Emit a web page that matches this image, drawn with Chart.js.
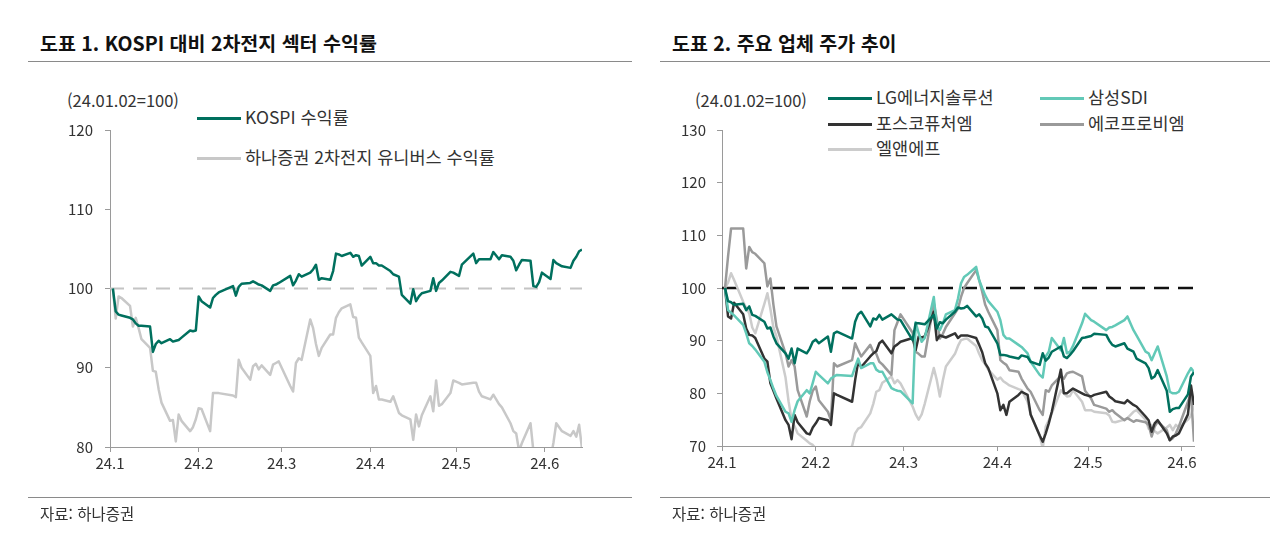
<!DOCTYPE html>
<html lang="ko">
<head>
<meta charset="utf-8">
<title>2차전지 섹터 수익률 / 주요 업체 주가 추이</title>
<script src="https://cdn.jsdelivr.net/npm/chart.js@4.4.1/dist/chart.umd.min.js"></script>
<style>
  html, body { margin: 0; padding: 0; background: #fff; }
  body {
    width: 1280px; height: 541px; position: relative; overflow: hidden;
    font-family: 'Noto Sans CJK KR', 'Noto Sans', sans-serif; color: #222;
  }
  .panel { position: absolute; top: 0; width: 640px; height: 541px; }
  .panel canvas { position: absolute; left: 0; top: 0; }
  .title { position: absolute; top: 28px; font-size: 19.5px; line-height: 30px; font-weight: bold; color: #111; white-space: nowrap; }
  .rule { position: absolute; height: 0; border-top: 1.5px solid #8a8a8a; }
  .unit { position: absolute; top: 90px; font-size: 16.5px; line-height: 20px; color: #333; }
  .src { position: absolute; top: 503px; font-size: 15.5px; line-height: 20px; color: #333; }
  .leg { position: absolute; font-size: 17.5px; line-height: 20px; white-space: nowrap; color: #333; }
  .leg i { display: inline-block; width: 44px; height: 0; border-top: 3px solid; vertical-align: middle; margin-right: 4px; position: relative; top: -1px; }
</style>
</head>
<body>

<div class="panel" style="left:0">
  <div class="title" style="left:40px">도표 1. KOSPI 대비 2차전지 섹터 수익률</div>
  <div class="rule" style="left:28px; top:61px; width:604px"></div>
  <div class="unit" style="left:67px">(24.01.02=100)</div>
  <div class="leg" style="left:197px; top:107px"><i style="border-color:#00705e"></i>KOSPI 수익률</div>
  <div class="leg" style="left:197px; top:147px"><i style="border-color:#c8c8c8"></i>하나증권 2차전지 유니버스 수익률</div>
  <canvas id="leftChart" width="640" height="541"></canvas>
  <div class="rule" style="left:28px; top:497px; width:604px"></div>
  <div class="src" style="left:40px">자료: 하나증권</div>
</div>

<div class="panel" style="left:640px">
  <div class="title" style="left:32px">도표 2. 주요 업체 주가 추이</div>
  <div class="rule" style="left:20px; top:61px; width:610px"></div>
  <div class="unit" style="left:55px">(24.01.02=100)</div>
  <div class="leg" style="left:188px; top:87px"><i style="border-color:#00705e"></i>LG에너지솔루션</div>
  <div class="leg" style="left:400px; top:87px"><i style="border-color:#62c9b7"></i>삼성SDI</div>
  <div class="leg" style="left:188px; top:113px"><i style="border-color:#333333"></i>포스코퓨처엠</div>
  <div class="leg" style="left:400px; top:113px"><i style="border-color:#9a9a9a"></i>에코프로비엠</div>
  <div class="leg" style="left:188px; top:138px"><i style="border-color:#cccccc"></i>엘앤에프</div>
  <canvas id="rightChart" width="640" height="541"></canvas>
  <div class="rule" style="left:20px; top:497px; width:610px"></div>
  <div class="src" style="left:32px">자료: 하나증권</div>
</div>

<script>
// trading days 2024 (KRX), by month
const daysJan = [2,3,4,5,8,9,10,11,12,15,16,17,18,19,22,23,24,25,26,29,30,31];
const daysFeb = [1,2,5,6,7,8,13,14,15,16,19,20,21,22,23,26,27,28,29];
const daysMar = [4,5,6,7,8,11,12,13,14,15,18,19,20,21,22,25,26,27,28,29];
const daysApr = [1,2,3,4,5,8,9,11,12,15,16,17,18,19,22,23,24,25,26,29,30];
const daysMay = [2,3,7,8,9,10,13,14,16,17,20,21,22,23,24,27,28,29,30,31];
const daysJun = [3,4,5,7,10,11,12,13,14];

const monthLabels = ['24.1', '24.2', '24.3', '24.4', '24.5', '24.6'];
const baseLevel = 100;

// 도표 1 (111 trading days, 24.01.02 ~ 24.06.14)
const kospi = [
  100.0, 97.1, 96.7, 96.6, 96.3, 96.1, 95.6, 95.3, 95.3, 95.2, 92.0, 93.0, 93.4, 93.1, 93.6, 93.3, 93.4, 93.5, 93.8, 94.7, 94.6, 94.7,
  99.0, 98.4, 97.6, 98.8, 99.2, 99.5, 100.3, 99.1, 100.2, 100.6, 100.7, 100.9, 100.7, 100.5, 100.4, 99.7, 100.4, 100.5, 100.7,
  101.6, 100.4, 101.0, 101.8, 101.5, 102.0, 102.4, 103.0, 101.1, 101.3, 101.1, 102.2, 104.4, 104.3, 104.1, 104.5, 104.0, 104.2, 104.1, 102.9,
  104.0, 103.2, 103.2, 102.9, 102.9, 102.2, 101.8, 101.5, 99.2, 98.1, 99.9, 98.4, 99.0, 99.4, 99.7, 101.3, 99.7, 100.7, 101.0, 102.1, 102.0,
  101.6, 103.0, 104.4, 103.2, 103.7, 103.7, 103.7, 104.6, 103.7, 104.2, 104.0, 103.5, 102.3, 103.0, 103.6, 103.5, 100.3, 100.2, 100.8, 102.0,
  101.2, 103.6, 103.2, 102.8, 102.6, 103.5, 104.0, 104.7, 104.9
];
const hanaUniverse = [
  100.0, 96.2, 99.0, 98.8, 97.8, 95.2, 96.3, 95.0, 93.6, 92.5, 89.6, 89.5, 87.3, 85.6, 83.3, 83.4, 80.7, 84.1, 83.3, 82.0, 82.5, 83.5,
  84.9, 84.8, 82.0, 86.8, 86.8, 86.8, 86.5, 86.3, 91.0, 90.0, 88.5, 90.2, 90.5, 89.8, 90.3, 89.1, 90.4, 90.6, 90.8,
  87.7, 87.0, 90.6, 91.2, 91.0, 96.1, 95.0, 93.0, 91.5, 92.5, 94.2, 94.2, 96.3, 97.0, 97.5, 98.0, 96.4, 96.3, 93.8, 93.2,
  91.5, 86.8, 87.7, 86.0, 86.0, 85.7, 86.4, 84.3, 84.0, 83.5, 80.9, 84.1, 82.6, 84.0, 86.4, 84.5, 88.4, 85.2, 85.4, 86.8, 88.4,
  88.1, 87.9, 88.1, 88.1, 87.0, 86.4, 86.0, 86.6, 85.4, 85.0, 83.0, 82.0, 81.7, 79.5, 80.5, 83.0, 79.5, 78.0, 77.5, 77.5,
  78.5, 80.5, 83.0, 82.0, 81.4, 82.0, 81.3, 82.8, 79.8
];

// 도표 2 (105 trading days, 24.01.02 ~ 24.06.05)
const lgEnergy = [
  100.0, 97.5, 97.3, 96.8, 97.0, 95.8, 96.5, 94.9, 94.7, 93.6, 92.3, 92.5, 90.8, 89.5, 87.6, 86.6, 88.5, 85.7, 88.5, 87.6, 88.5, 89.8,
  90.2, 89.5, 90.8, 87.9, 91.4, 91.7, 90.4, 93.6, 95.0, 95.5, 92.7, 94.2, 94.0, 94.9, 94.0, 95.0, 94.5, 94.0, 93.9,
  90.1, 93.3, 93.3, 93.2, 93.1, 94.9, 92.3, 93.5, 93.3, 94.0, 95.5, 96.3, 96.1, 96.2, 96.6, 94.6, 95.0, 94.2, 92.7, 92.5,
  89.5, 87.3, 87.3, 87.2, 87.0, 86.6, 87.2, 86.9, 86.0, 85.4, 87.6, 86.2, 86.8, 87.9, 88.9, 87.0, 86.7, 87.3, 88.0, 90.5, 90.6,
  90.9, 91.3, 91.1, 90.0, 89.2, 88.9, 89.5, 88.5, 87.9, 86.6, 85.7, 84.8, 82.8, 83.2, 84.4, 80.5, 76.5, 77.0, 77.2, 77.2,
  79.8, 83.2, 84.0
];
const samsungSdi = [
  100.0, 95.8, 95.3, 94.8, 93.0, 91.4, 89.5, 89.0, 88.3, 86.0, 84.0, 82.5, 80.9, 79.5, 76.5, 76.2, 74.6, 76.8, 78.5, 80.6, 80.0, 82.0,
  84.1, 83.5, 81.9, 82.8, 83.2, 83.5, 83.3, 85.0, 86.6, 84.8, 85.7, 85.7, 84.5, 84.1, 84.1, 81.0, 80.7, 80.5, 80.4,
  78.1, 93.5, 91.4, 89.8, 90.5, 98.3, 92.7, 92.0, 93.3, 95.0, 95.8, 98.0, 100.9, 102.1, 102.5, 104.0, 101.5, 100.0, 98.6, 97.5,
  95.5, 93.9, 91.1, 90.4, 90.4, 89.2, 88.8, 87.6, 86.0, 83.5, 83.0, 87.0, 87.9, 90.5, 88.2, 90.5, 87.6, 87.9, 89.0, 93.3, 95.1,
  93.9, 93.6, 92.0, 92.5, 92.6, 92.9, 93.9, 94.6, 92.0, 91.0, 87.9, 87.6, 86.3, 87.6, 88.9, 83.2, 80.3, 80.0, 80.0, 80.3,
  83.8, 84.8, 84.0
];
const poscoFuture = [
  100.0, 94.6, 94.2, 97.2, 95.0, 92.3, 91.1, 91.0, 90.5, 86.6, 86.0, 81.9, 80.5, 79.0, 74.9, 74.0, 71.3, 75.9, 74.5, 72.4, 72.2, 73.5,
  74.3, 75.3, 74.9, 74.0, 80.0, 79.7, 78.4, 82.5, 86.0, 85.0, 87.0, 87.6, 88.0, 89.5, 90.0, 87.6, 88.9, 89.3, 89.8,
  90.5, 88.2, 90.8, 90.6, 90.8, 95.5, 90.1, 91.0, 90.8, 90.6, 91.4, 90.5, 91.0, 91.0, 91.0, 90.5, 89.2, 87.8, 85.7, 84.8,
  80.0, 76.8, 77.8, 75.9, 78.4, 79.7, 80.3, 79.7, 76.0, 72.0, 70.8, 72.4, 74.3, 76.5, 84.5, 80.0, 80.0, 80.5, 80.9, 80.0, 79.7,
  79.4, 79.7, 80.3, 79.4, 79.0, 78.5, 78.1, 78.7, 77.8, 77.5, 75.6, 74.9, 72.7, 74.3, 74.9, 72.4, 71.1, 71.8, 72.0, 72.4,
  76.0, 81.5, 77.8
];
const ecoproBm = [
  100.0, 106.0, 111.3, 111.3, 111.3, 103.7, 107.8, 106.8, 106.5, 104.7, 100.3, 101.8, 96.8, 92.7, 87.6, 85.1, 86.3, 85.1, 80.6, 75.6, 78.5, 80.5,
  81.3, 78.7, 76.5, 74.9, 85.7, 85.1, 86.3, 89.5, 88.2, 87.0, 89.2, 87.9, 87.5, 86.0, 85.5, 83.5, 92.0, 93.5, 95.0,
  91.5, 87.9, 87.5, 87.0, 87.0, 97.1, 94.0, 90.4, 91.3, 92.6, 95.2, 96.1, 98.3, 100.0, 100.9, 103.4, 101.5, 99.3, 96.8, 95.5,
  92.0, 86.3, 85.8, 85.4, 84.4, 84.1, 82.8, 80.9, 80.3, 76.8, 75.9, 80.6, 80.3, 81.5, 83.3, 82.8, 83.8, 84.0, 84.1, 83.2, 80.5,
  79.0, 77.8, 77.1, 76.5, 76.8, 76.2, 74.9, 75.3, 74.6, 74.9, 74.5, 74.0, 71.8, 73.7, 74.6, 73.0, 71.1, 71.5, 72.4, 73.7,
  78.4, 80.0, 70.8
];
const lnf = [
  100.0, 101.0, 102.8, 101.5, 97.4, 96.2, 95.2, 92.5, 91.4, 97.0, 99.0, 96.0, 92.5, 90.8, 83.0, 78.5, 75.0, 73.7, 72.4, 71.0, 70.5, 70.2,
  69.5, 68.5, 67.0, 66.0, 66.5, 67.5, 70.0, 72.4, 73.3, 73.6, 76.2, 78.0, 80.3, 80.6, 82.0, 83.2, 81.9, 82.5, 81.9,
  77.5, 76.0, 75.0, 76.0, 78.0, 84.8, 82.5, 79.4, 82.5, 85.1, 87.5, 89.0, 90.1, 90.3, 90.4, 89.0, 87.5, 86.3, 85.5, 84.5,
  82.6, 83.0, 82.3, 81.9, 81.5, 80.8, 80.6, 78.4, 76.0, 72.0, 69.5, 73.7, 74.9, 76.2, 80.6, 80.0, 79.4, 79.5, 80.6, 78.4, 76.8,
  76.8, 76.5, 76.2, 75.8, 74.6, 74.5, 75.0, 75.3, 76.5, 76.8, 75.0, 73.3, 74.0, 72.8, 72.4, 73.5, 74.0, 73.0, 74.0, 73.5,
  75.0, 75.8, 77.8
];

// ---- helpers ----
const DAY_MS = 86400000;
const dayOfYear = (m, d) => (Date.UTC(2024, m - 1, d) - Date.UTC(2024, 0, 1)) / DAY_MS;

const tradeDates = [daysJan, daysFeb, daysMar, daysApr, daysMay, daysJun]
  .flatMap((days, mi) => days.map(d => dayOfYear(mi + 1, d)));
const monthTicks = monthLabels.map((_, mi) => dayOfYear(mi + 1, 1));

const toPoints = values => values.map((v, i) => ({ x: tradeDates[i], y: v }));

const FONT = "'Noto Sans CJK KR', 'Noto Sans', sans-serif";
const AXIS_COLOR = '#9a9a9a';

function lineSet(values, color, width) {
  return {
    data: toPoints(values),
    borderColor: color,
    borderWidth: width || 2.5,
    pointRadius: 0,
    tension: 0,
    borderJoinStyle: 'round',
    fill: false
  };
}

function refLine(xMax, color, width, dash) {
  return {
    data: [{ x: 0, y: baseLevel }, { x: xMax, y: baseLevel }],
    borderColor: color,
    borderWidth: width,
    borderDash: dash,
    pointRadius: 0,
    fill: false
  };
}

function makeChart(id, opts) {
  return new Chart(document.getElementById(id), {
    type: 'line',
    data: { datasets: opts.datasets },
    options: {
      responsive: false,
      animation: false,
      events: [],
      layout: { padding: { top: opts.top, right: opts.right, bottom: opts.bottom, left: 0 } },
      plugins: { legend: { display: false }, tooltip: { enabled: false } },
      scales: {
        x: {
          type: 'linear',
          min: 0,
          max: opts.xMax,
          afterBuildTicks: scale => { scale.ticks = monthTicks.map(v => ({ value: v })); },
          afterFit: scale => { scale.height = 30; },
          ticks: {
            autoSkip: false, maxRotation: 0, padding: 2,
            color: '#333', font: { family: FONT, size: 15 },
            callback: v => monthLabels[monthTicks.indexOf(v)] || ''
          },
          grid: { drawOnChartArea: false, drawTicks: true, tickLength: 5, color: AXIS_COLOR },
          border: { color: AXIS_COLOR, width: 1 }
        },
        y: {
          min: opts.yMin,
          max: opts.yMax,
          afterFit: scale => { scale.width = opts.axisLeft; },
          ticks: { stepSize: 10, padding: opts.labelPad, color: '#333', font: { family: FONT, size: 15 } },
          grid: { drawOnChartArea: false, drawTicks: true, tickLength: 5, color: AXIS_COLOR },
          border: { color: AXIS_COLOR, width: 1 }
        }
      }
    }
  });
}

const leftEnd = tradeDates[kospi.length - 1];
makeChart('leftChart', {
  xMax: leftEnd, yMin: 80, yMax: 120,
  axisLeft: 110, top: 130, right: 58, bottom: 64, labelPad: 12,
  datasets: [
    lineSet(kospi, '#00705e'),
    lineSet(hanaUniverse, '#c8c8c8'),
    refLine(leftEnd, '#c4c4c4', 2, [14, 9])
  ]
});

const rightEnd = tradeDates[lgEnergy.length - 1];
makeChart('rightChart', {
  xMax: rightEnd, yMin: 70, yMax: 130,
  axisLeft: 82, top: 130, right: 86, bottom: 65, labelPad: 11,
  datasets: [
    lineSet(lgEnergy, '#00705e'),
    lineSet(samsungSdi, '#62c9b7'),
    lineSet(poscoFuture, '#333333'),
    lineSet(ecoproBm, '#9a9a9a'),
    lineSet(lnf, '#cccccc'),
    refLine(rightEnd, '#111111', 2.5, [15, 9])
  ]
});
</script>
</body>
</html>
